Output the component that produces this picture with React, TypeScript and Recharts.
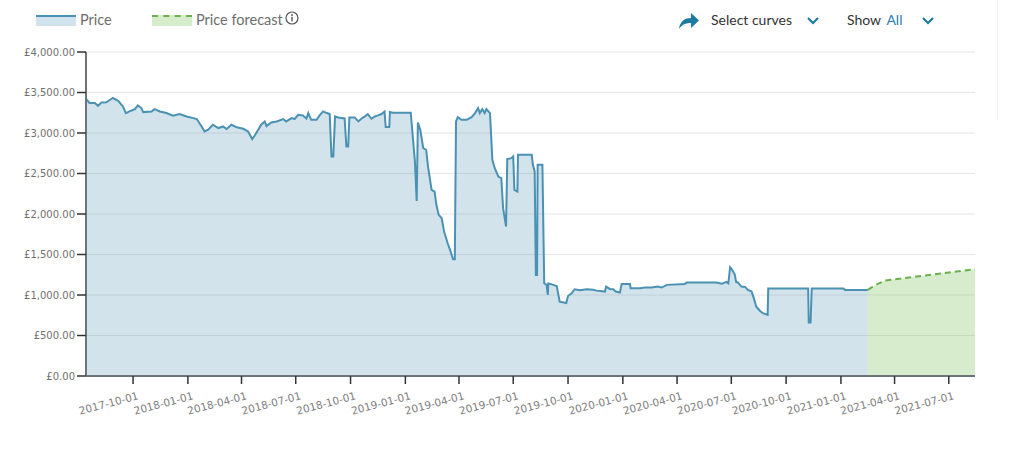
import { ComposedChart, Area, XAxis, YAxis, CartesianGrid } from "recharts"

const priceDates = [
  "2017-07-14", "2017-07-20", "2017-07-29", "2017-08-03", "2017-08-09", "2017-08-17", "2017-08-26", "2017-08-28",
  "2017-09-06", "2017-09-14", "2017-09-19", "2017-09-25", "2017-10-04", "2017-10-09", "2017-10-15", "2017-10-18",
  "2017-11-01", "2017-11-06", "2017-11-15", "2017-11-26", "2017-12-07", "2017-12-18", "2017-12-30", "2018-01-10",
  "2018-01-16", "2018-01-24", "2018-01-29", "2018-02-04", "2018-02-12", "2018-02-21", "2018-03-01", "2018-03-07",
  "2018-03-15", "2018-03-24", "2018-04-04", "2018-04-12", "2018-04-19", "2018-04-23", "2018-04-29", "2018-05-04",
  "2018-05-10", "2018-05-13", "2018-05-21", "2018-05-30", "2018-06-10", "2018-06-15", "2018-06-24", "2018-06-29",
  "2018-07-05", "2018-07-13", "2018-07-19", "2018-07-22", "2018-07-27", "2018-08-05", "2018-08-10", "2018-08-16",
  "2018-08-22", "2018-08-27", "2018-08-30", "2018-09-02", "2018-09-05", "2018-09-10", "2018-09-21", "2018-09-24",
  "2018-09-27", "2018-09-29", "2018-10-08", "2018-10-14", "2018-10-19", "2018-10-25", "2018-10-30", "2018-11-05",
  "2018-11-11", "2018-11-16", "2018-11-22", "2018-11-27", "2018-11-29", "2018-12-05", "2018-12-06", "2018-12-11",
  "2019-01-10", "2019-01-17", "2019-01-20", "2019-01-22", "2019-01-26", "2019-01-31", "2019-02-05", "2019-02-08",
  "2019-02-14", "2019-02-19", "2019-02-22", "2019-02-26", "2019-03-03", "2019-03-07", "2019-03-13", "2019-03-18",
  "2019-03-22", "2019-03-25", "2019-03-27", "2019-03-30", "2019-04-05", "2019-04-14", "2019-04-22", "2019-04-28",
  "2019-05-03", "2019-05-06", "2019-05-10", "2019-05-14", "2019-05-17", "2019-05-23", "2019-05-27", "2019-05-31",
  "2019-06-06", "2019-06-11", "2019-06-14", "2019-06-19", "2019-06-21", "2019-06-28", "2019-07-01", "2019-07-03",
  "2019-07-08", "2019-07-09", "2019-08-01", "2019-08-03", "2019-08-06", "2019-08-08", "2019-08-10", "2019-08-11",
  "2019-08-19", "2019-08-22", "2019-08-26", "2019-08-28", "2019-08-29", "2019-09-06", "2019-09-12", "2019-09-17",
  "2019-09-28", "2019-10-01", "2019-10-07", "2019-10-12", "2019-10-21", "2019-11-01", "2019-11-12", "2019-11-18",
  "2019-12-02", "2019-12-04", "2019-12-10", "2019-12-16", "2019-12-20", "2019-12-27", "2019-12-30", "2020-01-13",
  "2020-01-14", "2020-01-30", "2020-02-07", "2020-02-18", "2020-02-29", "2020-03-06", "2020-03-15", "2020-04-14",
  "2020-04-17", "2020-06-06", "2020-06-15", "2020-06-23", "2020-06-26", "2020-06-29", "2020-07-01", "2020-07-04",
  "2020-07-07", "2020-07-09", "2020-07-12", "2020-07-18", "2020-07-24", "2020-07-29", "2020-08-04", "2020-08-07",
  "2020-08-12", "2020-08-18", "2020-08-23", "2020-08-31", "2020-09-01", "2020-11-07", "2020-11-08", "2020-11-11",
  "2020-11-13", "2021-01-05", "2021-01-08", "2021-02-15",
]

const priceValues = [
  3420, 3370, 3370, 3336, 3377, 3380, 3423, 3432,
  3398, 3328, 3246, 3266, 3295, 3340, 3308, 3258,
  3266, 3295, 3266, 3246, 3213, 3234, 3204, 3184,
  3172, 3081, 3019, 3040, 3102, 3061, 3081, 3050,
  3102, 3070, 3052, 3019, 2925, 2966, 3040, 3102,
  3143, 3085, 3130, 3143, 3172, 3143, 3184, 3172,
  3225, 3217, 3180, 3246, 3163, 3163, 3217, 3266,
  3246, 3234, 2710, 2710, 3205, 3192, 3180, 2834,
  2834, 3192, 3192, 3143, 3176, 3205, 3234, 3176,
  3205, 3217, 3234, 3266, 3073, 3073, 3258, 3250,
  3250, 2650, 2160, 3130, 3040, 2813, 2790, 2586,
  2298, 2277, 2113, 1989, 1947, 1783, 1639, 1536,
  1442, 1442, 3143, 3196, 3163, 3163, 3196, 3246,
  3308, 3246, 3295, 3246, 3295, 3246, 2669, 2566,
  2463, 2442, 2072, 1845, 2678, 2690, 2710, 2298,
  2277, 2731, 2731, 2607, 2525, 1248, 1248, 2607,
  2607, 1145, 1125, 1000, 1145, 1125, 1110, 918,
  900, 988, 1020, 1071, 1060, 1071, 1065, 1054,
  1042, 1104, 1075, 1071, 1042, 1030, 1137, 1137,
  1084, 1084, 1092, 1092, 1104, 1092, 1125, 1137,
  1153, 1153, 1140, 1162, 1145, 1343, 1327, 1290,
  1249, 1162, 1155, 1104, 1100, 1063, 1042, 980,
  856, 806, 775, 755, 1080, 1080, 659, 659,
  1080, 1080, 1063, 1063,
]

const forecastDates = [
  "2021-02-15", "2021-03-01", "2021-03-16", "2021-04-01", "2021-05-01",
  "2021-06-01", "2021-07-01", "2021-08-01", "2021-08-14",
]
const forecastValues = [1063, 1128, 1178, 1193, 1220, 1249, 1277, 1306, 1318]

const xTickDates = [
  "2017-10-01", "2018-01-01", "2018-04-01", "2018-07-01", "2018-10-01", "2019-01-01",
  "2019-04-01", "2019-07-01", "2019-10-01", "2020-01-01", "2020-04-01", "2020-07-01",
  "2020-10-01", "2021-01-01", "2021-04-01", "2021-07-01",
]
const yTicks = [0, 500, 1000, 1500, 2000, 2500, 3000, 3500, 4000]
const xRange = ["2017-07-14", "2021-08-14"]

const toTime = (d: string) => Date.parse(d)

const priceData = priceDates.map((d, i) => ({ t: toTime(d), price: priceValues[i] }))
const forecastData = forecastDates.map((d, i) => ({ t: toTime(d), forecast: forecastValues[i] }))

const BLUE = "#4a91b3"
const GREEN = "#6ab04c"
const TEAL = "#1d7aa0"

const formatPound = (v: number) => {
  const [int, dec] = v.toFixed(2).split(".")
  return "£" + int.replace(/\B(?=(\d{3})+(?!\d))/g, ",") + "." + dec
}

const formatDate = (t: number) => new Date(t).toISOString().slice(0, 10)

function DateTick({ x, y, payload }: any) {
  return (
    <g transform={`translate(${x + 6},${y + 13}) rotate(-15)`}>
      <text textAnchor="end" fill="#808080" fontSize={10.5} fontFamily="DejaVu Sans">
        {formatDate(payload.value)}
      </text>
    </g>
  )
}

function Chevron({ left }: { left: number }) {
  return (
    <svg style={{ position: "absolute", left, top: 16 }} width={14} height={10} viewBox="0 0 14 10">
      <path d="M2 2 L7 7 L12 2" fill="none" stroke={TEAL} strokeWidth={2.2} />
    </svg>
  )
}

export default function App() {
  const label = { position: "absolute" as const, top: 10, fontSize: 14, lineHeight: "20px", color: "#6e6e6e" }
  return (
    <div style={{ position: "absolute", left: 0, top: 0, width: 1015, height: 455, background: "#fff", fontFamily: "Lato, 'Open Sans', sans-serif" }}>
      <div style={{ position: "absolute", left: 36, top: 15, width: 40, height: 9, borderTop: `2px solid ${BLUE}`, background: "#d1e3ec" }} />
      <div style={{ ...label, left: 80, fontSize: 14.5 }}>Price</div>
      <div style={{ position: "absolute", left: 152, top: 15, width: 40, height: 9, borderTop: `2px dashed ${GREEN}`, background: "#d6edcc" }} />
      <div style={{ ...label, left: 196, fontSize: 14.5 }}>Price forecast</div>
      <svg style={{ position: "absolute", left: 285, top: 11 }} width={14} height={14} viewBox="0 0 14 14">
        <circle cx={7} cy={7} r={6} fill="none" stroke="#555" strokeWidth={1.2} />
        <circle cx={7} cy={4} r={0.9} fill="#555" />
        <rect x={6.3} y={5.8} width={1.4} height={4.6} fill="#555" />
      </svg>

      <svg style={{ position: "absolute", left: 678, top: 12 }} width={22} height={18} viewBox="0 0 22 18">
        <path d="M1 17 C2 9 7 6 13 6 L13 1 L21 8.5 L13 16 L13 11 C8 11 4 12.5 1 17 Z" fill={TEAL} />
      </svg>
      <div style={{ ...label, left: 711, color: "#333" }}>Select curves</div>
      <Chevron left={806} />
      <div style={{ ...label, left: 847, color: "#333" }}>
        Show <span style={{ color: "#2b7db0", marginLeft: 2 }}>All</span>
      </div>
      <Chevron left={921} />
      <div style={{ position: "absolute", left: 997, top: 0, width: 1, height: 120, background: "#f0f0f0" }} />

      <div style={{ position: "absolute", left: 0, top: 0 }}>
        <ComposedChart width={1000} height={440} margin={{ top: 52, right: 25, left: 0, bottom: 0 }}>
          <CartesianGrid vertical={false} stroke="#e6e6e6" />
          <XAxis
            type="number"
            dataKey="t"
            domain={[toTime(xRange[0]), toTime(xRange[1])]}
            ticks={xTickDates.map(toTime)}
            interval={0}
            allowDataOverflow
            height={64}
            tick={<DateTick />}
            tickSize={8}
            axisLine={{ stroke: "#6d7479", strokeWidth: 2 }}
            tickLine={{ stroke: "#333", strokeWidth: 1.5 }}
          />
          <YAxis
            type="number"
            domain={[0, 4000]}
            ticks={yTicks}
            interval={0}
            width={86}
            tickSize={9}
            tickFormatter={formatPound}
            tick={{ fill: "#707070", fontSize: 10, fontFamily: "DejaVu Sans" }}
            axisLine={{ stroke: "#6d7479", strokeWidth: 2 }}
            tickLine={{ stroke: "#333", strokeWidth: 1.5 }}
          />
          <Area
            data={priceData}
            dataKey="price"
            type="linear"
            stroke={BLUE}
            strokeWidth={2}
            fill={BLUE}
            fillOpacity={0.25}
            isAnimationActive={false}
            dot={false}
            activeDot={false}
          />
          <Area
            data={forecastData}
            dataKey="forecast"
            type="linear"
            stroke={GREEN}
            strokeWidth={2}
            strokeDasharray="6 4"
            fill="#7cc15a"
            fillOpacity={0.3}
            isAnimationActive={false}
            dot={false}
            activeDot={false}
          />
        </ComposedChart>
      </div>
    </div>
  )
}
